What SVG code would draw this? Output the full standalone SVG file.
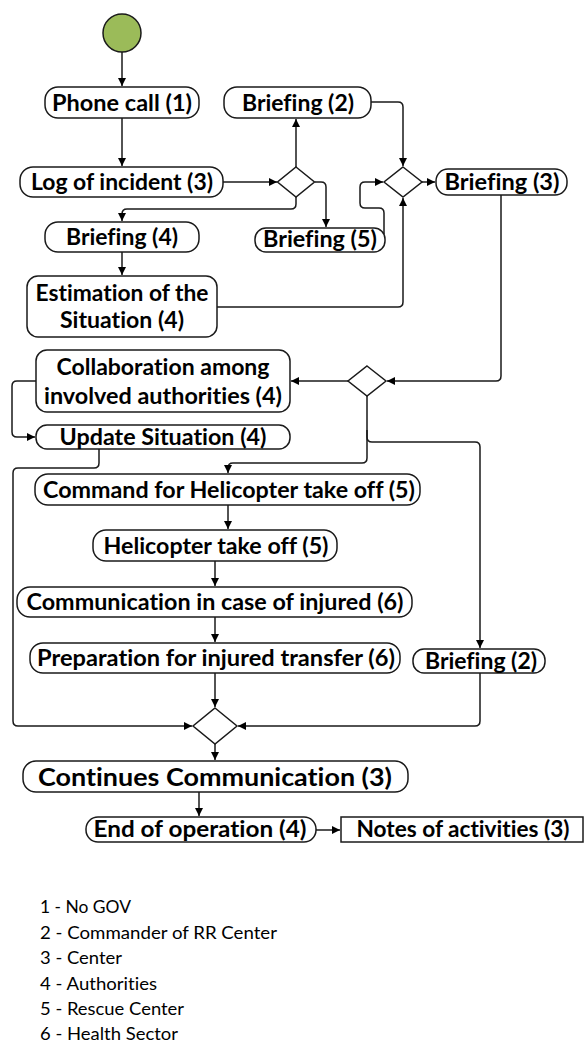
<svg xmlns="http://www.w3.org/2000/svg" width="584" height="1043" viewBox="0 0 584 1043">
<style>
.n rect{fill:#fff;stroke:#1a1a1a;stroke-width:1.5}
.n path{fill:#fff;stroke:#1a1a1a;stroke-width:1.5}
.n text{font-family:Lato,"Open Sans","Liberation Sans",sans-serif;font-weight:bold;font-size:22px;fill:#000;text-anchor:middle;font-variant-ligatures:none}
#edges path{fill:none;stroke:#1a1a1a;stroke-width:1.5}
.lg{font-family:Lato,"Open Sans","Liberation Sans",sans-serif;font-size:16.5px;fill:#000;font-variant-ligatures:none}
</style>
<defs>
<marker id="ah" markerUnits="userSpaceOnUse" markerWidth="9" markerHeight="9" refX="8" refY="4" orient="auto">
<path d="M0,0 L8,4 L0,8 z" fill="#000"/>
</marker>
</defs>
<g id="edges">
<path d="M122,52 V86" marker-end="url(#ah)"/>
<path d="M122,118 V166" marker-end="url(#ah)"/>
<path d="M223,182 H277" marker-end="url(#ah)"/>
<path d="M296,167 V119" marker-end="url(#ah)"/>
<path d="M371,102 H398 Q403,102 403,107 V166" marker-end="url(#ah)"/>
<path d="M315,182 H321 Q326,182 326,187 V227" marker-end="url(#ah)"/>
<path d="M296,197 V204 Q296,209 291,209 H127 Q122,209 122,214 V221" marker-end="url(#ah)"/>
<path d="M384,234 V213 Q384,208 379,208 H365 Q360,208 360,203 V187 Q360,182 365,182 H383" marker-end="url(#ah)"/>
<path d="M122,252 V275" marker-end="url(#ah)"/>
<path d="M217,307 H398 Q403,307 403,302 V198" marker-end="url(#ah)"/>
<path d="M422,182 H435" marker-end="url(#ah)"/>
<path d="M501,195 V376 Q501,381 496,381 H387" marker-end="url(#ah)"/>
<path d="M348,381 H291" marker-end="url(#ah)"/>
<path d="M36,381 H17 Q12,381 12,386 V432 Q12,437 17,437 H35" marker-end="url(#ah)"/>
<path d="M367,396 V458 Q367,463 362,463 H233 Q228,463 228,468 V473" marker-end="url(#ah)"/>
<path d="M367,430 V437 Q367,442 372,442 H475 Q480,442 480,447 V648" marker-end="url(#ah)"/>
<path d="M99,449 V463 Q99,468 94,468 H18 Q13,468 13,473 V721 Q13,726 18,726 H192" marker-end="url(#ah)"/>
<path d="M228,505 V529" marker-end="url(#ah)"/>
<path d="M215,561 V586" marker-end="url(#ah)"/>
<path d="M215,617 V642" marker-end="url(#ah)"/>
<path d="M215,673 V707" marker-end="url(#ah)"/>
<path d="M480,673 V721 Q480,726 475,726 H238" marker-end="url(#ah)"/>
<path d="M215,744 V760" marker-end="url(#ah)"/>
<path d="M199,792 V816" marker-end="url(#ah)"/>
<path d="M316,830 H340" marker-end="url(#ah)"/>
</g>
<g id="start"><circle cx="122" cy="33" r="19" fill="#9bbb59" stroke="#1a1a1a" stroke-width="1.5"/></g>
<g id="phone" class="n"><rect x="45" y="87" width="154" height="31" rx="13"/><text x="122" y="110.5" textLength="140" lengthAdjust="spacingAndGlyphs">Phone call (1)</text></g>
<g id="log" class="n"><rect x="20" y="167" width="203" height="30" rx="13"/><text x="122" y="189.5" textLength="182" lengthAdjust="spacingAndGlyphs">Log of incident (3)</text></g>
<g id="d1" class="n"><path d="M296,167 L314.5,182 L296,197 L277.5,182 Z"/></g>
<g id="briefing2a" class="n"><rect x="224" y="87" width="147" height="31" rx="13"/><text x="298" y="110.5" textLength="112" lengthAdjust="spacingAndGlyphs">Briefing (2)</text></g>
<g id="briefing5" class="n"><rect x="255" y="228" width="130" height="24" rx="11"/><text x="320" y="246.5" textLength="114" lengthAdjust="spacingAndGlyphs">Briefing (5)</text></g>
<g id="briefing4" class="n"><rect x="45" y="222" width="154" height="30" rx="13"/><text x="122" y="244.5" textLength="112" lengthAdjust="spacingAndGlyphs">Briefing (4)</text></g>
<g id="d2" class="n"><path d="M403,167 L422,182 L403,197 L384,182 Z"/></g>
<g id="briefing3" class="n"><rect x="436" y="169" width="131" height="26" rx="12"/><text x="502" y="189.5" textLength="115" lengthAdjust="spacingAndGlyphs">Briefing (3)</text></g>
<g id="estimation" class="n"><rect x="27" y="276" width="190" height="61" rx="11"/><text x="122" y="300.5" textLength="173" lengthAdjust="spacingAndGlyphs">Estimation of the</text><text x="122" y="327.5" textLength="124" lengthAdjust="spacingAndGlyphs">Situation (4)</text></g>
<g id="d3" class="n"><path d="M367,366 L386,381 L367,396 L348,381 Z"/></g>
<g id="collab" class="n"><rect x="36" y="350" width="254" height="62" rx="11"/><text x="163" y="374.5" textLength="213" lengthAdjust="spacingAndGlyphs">Collaboration among</text><text x="163" y="403.5" textLength="238" lengthAdjust="spacingAndGlyphs">involved authorities (4)</text></g>
<g id="update" class="n"><rect x="36" y="425" width="254" height="24" rx="11"/><text x="163" y="444.5" textLength="207" lengthAdjust="spacingAndGlyphs">Update Situation (4)</text></g>
<g id="command" class="n"><rect x="35" y="474" width="385" height="31" rx="13"/><text x="229" y="497.5" textLength="372" lengthAdjust="spacingAndGlyphs">Command for Helicopter take off (5)</text></g>
<g id="takeoff" class="n"><rect x="93" y="530" width="244" height="31" rx="13"/><text x="216" y="553.5" textLength="225" lengthAdjust="spacingAndGlyphs">Helicopter take off (5)</text></g>
<g id="communication" class="n"><rect x="17" y="587" width="395" height="30" rx="13"/><text x="215" y="609.5" textLength="377" lengthAdjust="spacingAndGlyphs">Communication in case of injured (6)</text></g>
<g id="preparation" class="n"><rect x="30" y="643" width="370" height="30" rx="13"/><text x="216" y="666" textLength="358" lengthAdjust="spacingAndGlyphs">Preparation for injured transfer (6)</text></g>
<g id="briefing2b" class="n"><rect x="413" y="649" width="132" height="24" rx="11"/><text x="481" y="668.5" textLength="112" lengthAdjust="spacingAndGlyphs">Briefing (2)</text></g>
<g id="d4" class="n"><path d="M215,708 L237,726 L215,744 L193,726 Z"/></g>
<g id="continues" class="n"><rect x="23" y="761" width="385" height="31" rx="13"/><text x="215" y="786" style="font-size:25px" textLength="354" lengthAdjust="spacingAndGlyphs">Continues Communication (3)</text></g>
<g id="end" class="n"><rect x="86" y="817" width="230" height="25" rx="12"/><text x="200" y="837" textLength="213" lengthAdjust="spacingAndGlyphs">End of operation (4)</text></g>
<g id="notes" class="n"><rect x="341" y="817" width="242" height="25"/><text x="463" y="837" textLength="213" lengthAdjust="spacingAndGlyphs">Notes of activities (3)</text></g>
<g id="legend">
<text class="lg" x="40" y="913" textLength="91" lengthAdjust="spacingAndGlyphs">1 - No GOV</text>
<text class="lg" x="40" y="938.5" textLength="237" lengthAdjust="spacingAndGlyphs">2 - Commander of RR Center</text>
<text class="lg" x="40" y="964" textLength="82" lengthAdjust="spacingAndGlyphs">3 - Center</text>
<text class="lg" x="40" y="989.5" textLength="117" lengthAdjust="spacingAndGlyphs">4 - Authorities</text>
<text class="lg" x="40" y="1015" textLength="144" lengthAdjust="spacingAndGlyphs">5 - Rescue Center</text>
<text class="lg" x="40" y="1039.5" textLength="138" lengthAdjust="spacingAndGlyphs">6 - Health Sector</text>
</g>
</svg>
